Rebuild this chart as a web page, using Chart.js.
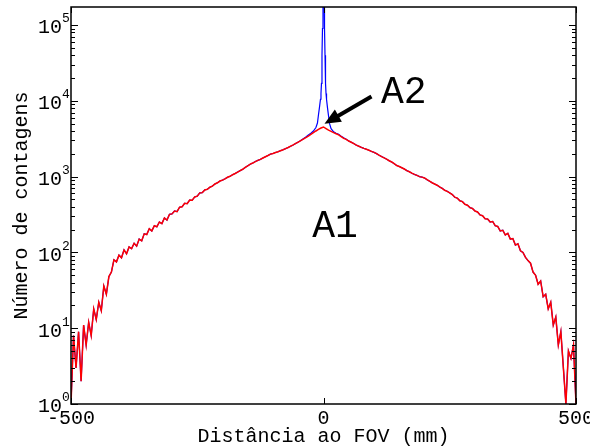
<!DOCTYPE html>
<html>
<head>
<meta charset="utf-8">
<script src="https://cdn.jsdelivr.net/npm/chart.js@4"></script>
<style>
html, body { margin: 0; padding: 0; background: #fff; }
#wrap { width: 590px; height: 446px; }
</style>
</head>
<body>
<div id="wrap"><canvas id="grafico"></canvas></div>
<script>
// bins de 5 mm, de -500 a 500
const binInicio = -500;
const binPasso = 5;

// contagens sem o pico (vermelho)
const contagensVermelho = [
  1, 8, 3, 9, 2, 11, 6, 12, 8, 18,
  13, 22, 17, 36, 28, 48, 55, 80, 75, 92,
  85, 108, 96, 118, 112, 132, 121, 150, 142, 176,
  172, 205, 192, 225, 218, 252, 240, 285, 268, 318,
  322, 352, 345, 395, 400, 445, 440, 490, 488, 540,
  552, 610, 615, 668, 680, 725, 750, 800, 830, 875,
  900, 935, 980, 1010, 1060, 1100, 1150, 1200, 1250, 1320,
  1390, 1460, 1510, 1580, 1640, 1690, 1760, 1830, 1900, 1980,
  2020, 2080, 2130, 2200, 2260, 2340, 2420, 2520, 2620, 2740,
  2860, 2980, 3120, 3270, 3430, 3610, 3800, 4000, 4200, 4380,
  4520,
  4300, 4100, 3950, 3800, 3680, 3560, 3380, 3200, 3100, 2950,
  2840, 2730, 2600, 2520, 2430, 2360, 2300, 2230, 2150, 2090,
  2010, 1920, 1840, 1770, 1700, 1620, 1560, 1480, 1400, 1360,
  1310, 1260, 1200, 1160, 1110, 1070, 1040, 1000, 985, 960,
  910, 870, 830, 800, 770, 730, 700, 660, 640, 610,
  580, 535, 520, 480, 468, 432, 420, 390, 380, 352,
  342, 312, 305, 278, 276, 252, 256, 225, 220, 192,
  196, 170, 178, 150, 152, 125, 130, 105, 100, 86,
  78, 72, 55, 50, 38, 42, 26, 28, 18, 22,
  11, 14, 6, 9, 3, 1, 5, 4, 6, 1
];

// regiao central com o pico (azul), fora dela o azul coincide com o vermelho
const picoX = [-45, -40, -35, -30, -25, -20, -15, -12, -10, -8, -6, -5, -4, -3, -2, -1, 0,
  1, 2, 3, 4, 5, 6, 8, 10, 12, 15, 20, 25, 30, 35, 40, 45];
const picoAzul = [2990, 3170, 3340, 3530, 3740, 4000, 4450, 5100, 6500, 8200, 10500, 12500, 17000, 40000, 90000, 300000, 900000,
  300000, 90000, 40000, 17000, 12500, 10500, 8000, 6300, 5000, 4300, 3900, 3740, 3620, 3420, 3250, 3120];

const xTicks = [-500, 0, 500];
const yDecadas = [0, 1, 2, 3, 4, 5];
const yMax = 173000;

const fonte = '"Liberation Mono", "DejaVu Sans Mono", monospace';

// anotacoes em coordenadas de dados
const textoA1 = { texto: 'A1', x: 23, y: 219 };
const textoA2 = { texto: 'A2', x: 159, y: 12600 };
const setaA2 = { de: [95, 11400], para: [2, 5000] };

const pontosVermelho = contagensVermelho.map((v, i) => ({ x: binInicio + i * binPasso, y: v }));
const pontosAzul = pontosVermelho.filter(p => p.x < picoX[0])
  .concat(picoX.map((x, i) => ({ x: x, y: picoAzul[i] })))
  .concat(pontosVermelho.filter(p => p.x > picoX[picoX.length - 1]));

const decoracao = {
  id: 'decoracao',
  afterDatasetsDraw(chart) {
    const { ctx, chartArea: a, scales: { x, y } } = chart;
    ctx.save();
    ctx.strokeStyle = '#000';
    ctx.lineWidth = 1;
    ctx.beginPath();
    yDecadas.forEach(k => {
      for (let m = 1; m <= 9; m++) {
        const v = m * Math.pow(10, k);
        if (v < y.min || v > y.max) continue;
        const py = Math.round(y.getPixelForValue(v)) + 0.5;
        const len = m === 1 ? 7 : 4;
        ctx.moveTo(a.left, py); ctx.lineTo(a.left + len, py);
        ctx.moveTo(a.right, py); ctx.lineTo(a.right - len, py);
      }
    });
    xTicks.forEach(v => {
      const px = Math.round(x.getPixelForValue(v)) + 0.5;
      ctx.moveTo(px, a.bottom); ctx.lineTo(px, a.bottom - 6);
      ctx.moveTo(px, a.top); ctx.lineTo(px, a.top + 6);
    });
    ctx.stroke();

    ctx.lineWidth = 1.5;
    ctx.strokeRect(a.left, a.top, a.right - a.left, a.bottom - a.top);

    // rotulos 10^k
    ctx.fillStyle = '#000';
    ctx.textBaseline = 'middle';
    yDecadas.forEach(k => {
      const py = y.getPixelForValue(Math.pow(10, k));
      ctx.font = '20px ' + fonte;
      ctx.textAlign = 'right';
      ctx.fillText('10', a.left - 9, py + 3);
      ctx.font = '13px ' + fonte;
      ctx.textAlign = 'left';
      ctx.fillText(String(k), a.left - 9, py - 6);
    });

    // A1, A2
    ctx.font = '38px ' + fonte;
    ctx.textAlign = 'center';
    [textoA1, textoA2].forEach(t => {
      ctx.fillText(t.texto, x.getPixelForValue(t.x), y.getPixelForValue(t.y));
    });

    // seta
    const x0 = x.getPixelForValue(setaA2.de[0]), y0 = y.getPixelForValue(setaA2.de[1]);
    const x1 = x.getPixelForValue(setaA2.para[0]), y1 = y.getPixelForValue(setaA2.para[1]);
    const d = Math.hypot(x1 - x0, y1 - y0);
    const ux = (x1 - x0) / d, uy = (y1 - y0) / d;
    ctx.lineWidth = 4;
    ctx.beginPath();
    ctx.moveTo(x0, y0);
    ctx.lineTo(x1 - ux * 12, y1 - uy * 12);
    ctx.stroke();
    ctx.beginPath();
    ctx.moveTo(x1, y1);
    ctx.lineTo(x1 - ux * 16 - uy * 7, y1 - uy * 16 + ux * 7);
    ctx.lineTo(x1 - ux * 16 + uy * 7, y1 - uy * 16 - ux * 7);
    ctx.closePath();
    ctx.fill();
    ctx.restore();
  }
};

new Chart(document.getElementById('grafico'), {
  type: 'line',
  data: {
    datasets: [
      {
        label: 'sem pico',
        data: pontosVermelho,
        borderColor: '#ff0000',
        borderWidth: 1.5,
        pointRadius: 0,
        fill: false,
        tension: 0
      },
      {
        label: 'com pico',
        data: pontosAzul,
        borderColor: '#0000ff',
        borderWidth: 1.2,
        pointRadius: 0,
        fill: false,
        tension: 0
      }
    ]
  },
  options: {
    responsive: true,
    maintainAspectRatio: false,
    animation: false,
    layout: { padding: { left: 0, right: 14, top: 7, bottom: 0 } },
    plugins: { legend: { display: false }, tooltip: { enabled: false } },
    scales: {
      x: {
        type: 'linear',
        min: -500,
        max: 500,
        grid: { display: false, drawTicks: false },
        border: { display: false },
        afterBuildTicks: s => { s.ticks = xTicks.map(v => ({ value: v })); },
        ticks: {
          color: '#000',
          font: { family: fonte, size: 20 },
          padding: 3,
          maxRotation: 0,
          autoSkip: false
        },
        title: {
          display: true,
          text: 'Distância ao FOV (mm)',
          color: '#000',
          font: { family: fonte, size: 20 },
          padding: { top: 0, bottom: -3 }
        },
        afterFit: s => { s.height = 42; s.paddingLeft = 0; s.paddingRight = 0; }
      },
      y: {
        type: 'logarithmic',
        min: 1,
        max: yMax,
        grid: { display: false, drawTicks: false },
        border: { display: false },
        ticks: { display: false },
        title: {
          display: true,
          text: 'Número de contagens',
          color: '#000',
          font: { family: fonte, size: 20 },
          padding: { top: 10, bottom: 0 }
        },
        afterFit: s => { s.width = 71; }
      }
    }
  },
  plugins: [decoracao]
});
</script>
</body>
</html>
